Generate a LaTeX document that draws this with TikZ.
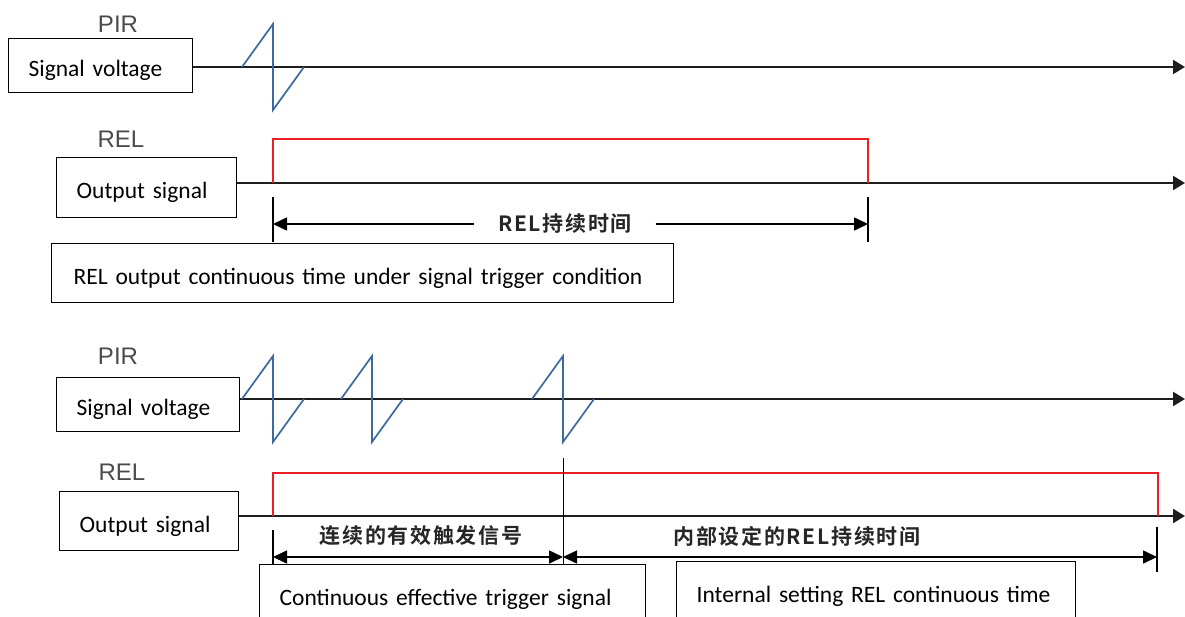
\documentclass[tikz,border=0pt]{standalone}
\usepackage{fontspec}
\setmainfont{Carlito}
\newfontfamily\tagfont{Liberation Sans}
\newfontfamily\cjk{Noto Sans CJK SC}[BoldFont={Noto Sans CJK SC Bold}, LetterSpace=8]
\usetikzlibrary{arrows.meta, positioning}
\definecolor{pirblue}{RGB}{62,104,160}
\definecolor{relred}{RGB}{235,30,35}
\definecolor{axisgray}{RGB}{30,30,30}
\definecolor{taggray}{RGB}{75,75,75}
\tikzset{
  % Word-style text box, text set flush left
  sigbox/.style={
    rectangle, draw=black, fill=white, line width=1.3pt, anchor=north west,
    inner xsep=20pt, inner ysep=0pt, align=left, text height=24pt, text depth=2pt,
    font=\fontsize{23.5}{28}\selectfont
  },
  sigtag/.style={font=\tagfont\fontsize{24}{26}\selectfont, text=taggray},
  durlabel/.style={font=\cjk\bfseries\fontsize{21}{24}\selectfont, text=black!85, inner xsep=0pt},
  axisline/.style={-{Triangle[length=12pt, width=14pt]}, line width=2.2pt, color=axisgray},
  dimarrow/.style={-{Triangle[length=14pt, width=13pt]}, line width=1.6pt, color=black},
  dimboth/.style={{Triangle[length=14pt, width=13pt]}-{Triangle[length=14pt, width=13pt]}, line width=1.6pt, color=black},
  dimtick/.style={line width=1.8pt, color=black},
  pirwave/.style={line width=1.7pt, color=pirblue},
  relwave/.style={line width=2pt, color=relred}
}
% one PIR pulse centred on (#1,#2)
\newcommand{\pirpulse}[2]{%
  \draw[pirwave] (#1-31,#2) -- (#1,#2-43) -- (#1,#2+43) -- (#1+31,#2);}

\begin{document}
\begin{tikzpicture}[x=1pt, y=-1pt]
  \useasboundingbox (0,0) rectangle (1185,616);

  % ---- single trigger ----
  % PIR row
  \node[sigtag] (pir1) at (118,24) {PIR};
  \node[sigbox, text width=144pt, minimum height=54pt] (volt1) at (8,38) {Signal voltage};
  \coordinate (t1) at (1185,67);
  \draw[axisline] (volt1.east |- t1) -- (t1);
  \pirpulse{273}{67}

  % REL row
  \node[sigtag] (rel1) at (121,139) {REL};
  \node[sigbox, text width=140pt, minimum height=60pt] (out1) at (56,157) {Output signal};
  \coordinate (t2) at (1185,183);
  \draw[axisline] (out1.east |- t2) -- (t2);
  \coordinate (on1) at (273,183);
  \coordinate (off1) at (868,183);
  \draw[relwave] (on1) |- (868,139) -- (off1);

  % hold time
  \coordinate (d1a) at (273,224);
  \coordinate (d1b) at (868,224);
  \draw[dimtick] (273,197) -- (273,242);
  \draw[dimtick] (868,197) -- (868,242);
  \node[durlabel, minimum width=181pt] (dur1) at (565,224) {REL持续时间};
  \draw[dimarrow] (dur1.west) -- (d1a);
  \draw[dimarrow] (dur1.east) -- (d1b);
  \node[sigbox, inner xsep=22pt, text width=578pt, minimum height=59pt] (note1) at (51,243)
    {REL output continuous time under signal trigger condition};

  % ---- repeated triggers ----
  % PIR row
  \node[sigtag] (pir2) at (118,356) {PIR};
  \node[sigbox, text width=143pt, minimum height=54pt] (volt2) at (56,377) {Signal voltage};
  \coordinate (t3) at (1185,399);
  \draw[axisline] (volt2.east |- t3) -- (t3);
  \foreach \px in {273,372,563} {\pirpulse{\px}{399}}

  % REL row
  \node[sigtag] (rel2) at (122,472) {REL};
  \node[sigbox, text width=139pt, minimum height=59pt] (out2) at (59,491) {Output signal};
  \coordinate (t4) at (1185,516);
  \draw[axisline] (out2.east |- t4) -- (t4);
  \coordinate (on2) at (273,516);
  \coordinate (off2) at (1158,516);
  \draw[relwave] (on2) |- (1158,473) -- (off2);

  % trigger window and hold time
  \draw[line width=1pt] (563,458) -- (563,565);
  \draw[dimtick] (273,530) -- (273,564);
  \draw[dimtick] (1157,527) -- (1157,572);
  \coordinate (d2a) at (273,557);
  \coordinate (d2m) at (563,557);
  \coordinate (d2b) at (1157,557);
  \draw[dimboth] (d2a) -- (d2m);
  \draw[dimboth] (d2m) -- (d2b);
  \node[durlabel] (win) at (421,536) {连续的有效触发信号};
  \node[durlabel] (dur2) at (797,536) {内部设定的REL持续时间};

  \node[sigbox, text width=346pt, minimum height=60pt] (note2) at (259,564)
    {Continuous effective trigger signal};
  \node[sigbox, text width=359pt, minimum height=60pt] (note3) at (676,561)
    {Internal setting REL continuous time};
\end{tikzpicture}
\end{document}
